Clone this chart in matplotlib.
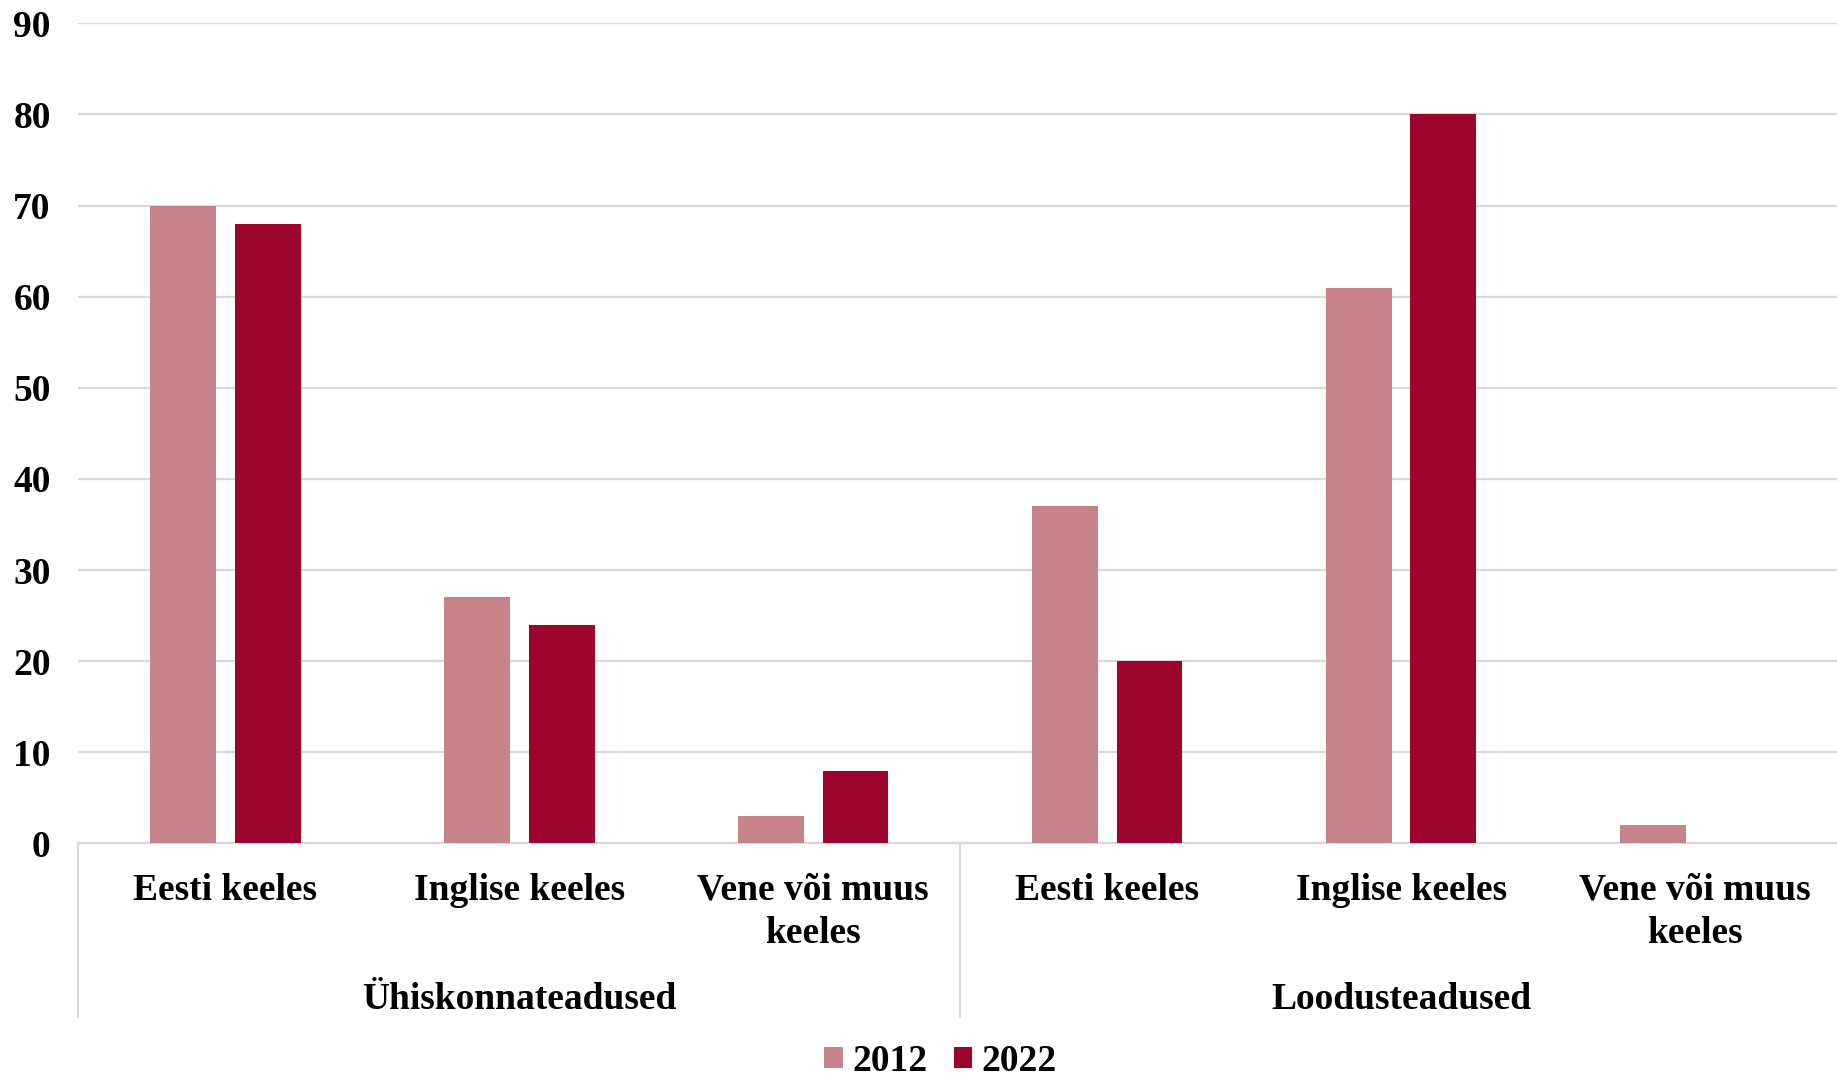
import matplotlib
matplotlib.use("Agg")
import matplotlib.pyplot as plt
import matplotlib.transforms as mtransforms
import numpy as np

# Study language by field, share of students (%)
categories = ["Eesti keeles", "Inglise keeles", "Vene või muus\nkeeles",
              "Eesti keeles", "Inglise keeles", "Vene või muus\nkeeles"]
groups = ["Ühiskonnateadused", "Loodusteadused"]
years = ["2012", "2022"]
values_2012 = [70, 27, 3, 37, 61, 2]
values_2022 = [68, 24, 8, 20, 80, 0]
yticks = [0, 10, 20, 30, 40, 50, 60, 70, 80, 90]

color_2012 = "#C7838A"
color_2022 = "#9B052B"
grid_color = "#D9D9D9"

plt.rcParams["font.family"] = ["Liberation Serif", "DejaVu Serif"]
plt.rcParams["font.weight"] = "bold"

fig = plt.figure(figsize=(18.37, 10.76), dpi=100)
ax = fig.add_axes([0.0427, 0.2161, 0.96, 0.7622])

x = np.arange(len(categories))
width = 0.224
offset = 0.144
ax.bar(x - offset, values_2012, width, color=color_2012, label=years[0], zorder=3)
ax.bar(x + offset, values_2022, width, color=color_2022, label=years[1], zorder=3)

ax.set_xlim(-0.5, len(categories) - 0.5)
ax.set_ylim(0, 90)
ax.set_yticks(yticks)
ax.set_yticklabels([str(v) for v in yticks], fontsize=27, fontweight="bold")
ax.yaxis.grid(True, color=grid_color, linewidth=1.6, zorder=0)
ax.set_axisbelow(True)

ax.set_xticks(x)
ax.set_xticklabels(categories, fontsize=27, fontweight="bold", linespacing=1.3)
ax.tick_params(axis="x", length=0, pad=21)
ax.tick_params(axis="y", length=0, pad=20)

for side in ["left", "right", "top"]:
    ax.spines[side].set_visible(False)
ax.spines["bottom"].set_color(grid_color)
ax.spines["bottom"].set_linewidth(1.6)

# group separators and group names below the axis
trans = mtransforms.blended_transform_factory(ax.transData, ax.transAxes)
for xs in [-0.5, 2.5, 5.5]:
    ax.plot([xs, xs], [0, -0.2116], transform=trans, color=grid_color,
            linewidth=1.6, clip_on=False)
for gi, name in enumerate(groups):
    ax.text(gi * 3 + 1, -0.19, name, transform=trans, ha="center", va="center",
            fontsize=27, fontweight="bold")

fig.legend(loc="center", bbox_to_anchor=(0.512, 0.0135), ncol=2, frameon=False,
           handlelength=0.5, handleheight=0.5, handletextpad=0.25,
           columnspacing=0.7, prop={"weight": "bold", "size": 27})

fig.savefig("out.png", dpi=100)
plt.close()
